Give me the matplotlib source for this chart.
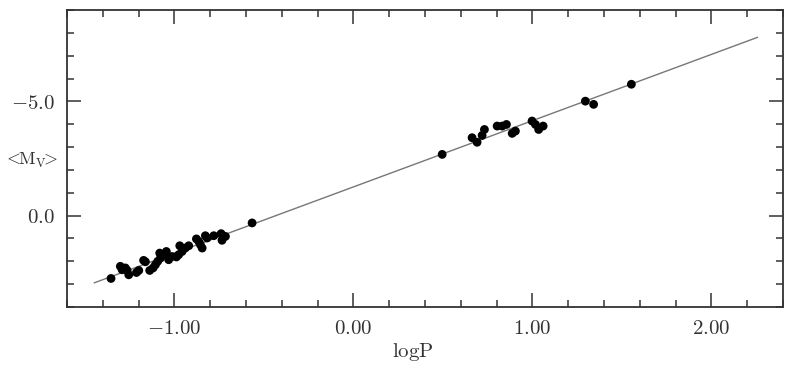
import matplotlib
matplotlib.use("Agg")
import matplotlib.pyplot as plt
import numpy as np
from matplotlib.ticker import MultipleLocator, FixedLocator, FixedFormatter

plt.rcParams['mathtext.fontset'] = 'cm'
plt.rcParams['font.family'] = ['DejaVu Serif']

# Data
logP = [-1.354, -1.302, -1.292, -1.274, -1.255, -1.264, -1.212, -1.199, -1.172, -1.162,
        -1.138, -1.119, -1.106, -1.093, -1.082, -1.078, -1.060, -1.045, -1.032, -1.013,
        -0.989, -0.976, -0.970, -0.957, -0.939, -0.920, -0.877, -0.864, -0.855, -0.845,
        -0.827, -0.817, -0.780, -0.739, -0.734, -0.715, -0.566,
        0.496, 0.663, 0.691, 0.719, 0.732, 0.803, 0.831, 0.855, 0.887, 0.905,
        0.998, 1.017, 1.035, 1.060, 1.296, 1.342, 1.553]
Mv = [2.75, 2.22, 2.37, 2.29, 2.59, 2.40, 2.49, 2.40, 1.96, 2.02,
      2.40, 2.29, 2.15, 2.00, 1.64, 1.86, 1.71, 1.57, 1.93, 1.79,
      1.81, 1.71, 1.32, 1.57, 1.42, 1.32, 1.02, 1.13, 1.27, 1.42,
      0.88, 0.98, 0.88, 0.79, 1.08, 0.91, 0.32,
      -2.68, -3.41, -3.21, -3.51, -3.77, -3.92, -3.92, -3.99, -3.60, -3.70,
      -4.14, -3.99, -3.77, -3.92, -5.01, -4.87, -5.75]

fit_intercept = -1.256
fit_slope = -2.90
fit_x = [-1.447, 2.257]

x_major = [-1.0, 0.0, 1.0, 2.0]
x_labels = [r'$-1.00$', r'$0.00$', r'$1.00$', r'$2.00$']
y_major = [-5.0, 0.0]
y_labels = [r'$-5.0$', r'$0.0$']

fig = plt.figure(figsize=(8.04, 3.84), dpi=100)
ax = fig.add_axes([67/804, 1-307/384, (783-67)/804, (307-10)/384])

fx = np.array(fit_x)
ax.plot(fx, fit_intercept + fit_slope*fx, color='#777777', lw=1.0, zorder=1)
ax.scatter(logP, Mv, s=40, color='black', edgecolors='none', zorder=2)

ax.set_xlim(-1.6, 2.4)
ax.set_ylim(4.0, -9.0)

ax.xaxis.set_major_locator(FixedLocator(x_major))
ax.xaxis.set_major_formatter(FixedFormatter(x_labels))
ax.xaxis.set_minor_locator(MultipleLocator(0.2))
ax.yaxis.set_major_locator(FixedLocator(y_major))
ax.yaxis.set_major_formatter(FixedFormatter(y_labels))
ax.yaxis.set_minor_locator(MultipleLocator(1.0))

for sp in ax.spines.values():
    sp.set_linewidth(1.3)
    sp.set_color('#333333')

ax.tick_params(which='both', direction='in', top=True, right=True, color='#333333', width=1.1)
ax.tick_params(which='major', length=10, labelsize=15, pad=9, labelcolor='#333333')
ax.tick_params(which='minor', length=5)

ax.set_xlabel(r'$\mathrm{logP}$', fontsize=15, color='#333333')
ax.xaxis.set_label_coords((413-67)/(783-67), -(352-307)/(307-10))
ax.set_ylabel(r'$<\!\!\mathrm{M_V}\!\!>$', fontsize=13, rotation=0, color='#333333')
ax.yaxis.set_label_coords(-(67-31)/(783-67), 0.5 + (158-160)/(297))
ax.yaxis.label.set_va('center')
ax.yaxis.label.set_ha('center')
ax.xaxis.label.set_va('center')

fig.savefig('out.png', dpi=100)
